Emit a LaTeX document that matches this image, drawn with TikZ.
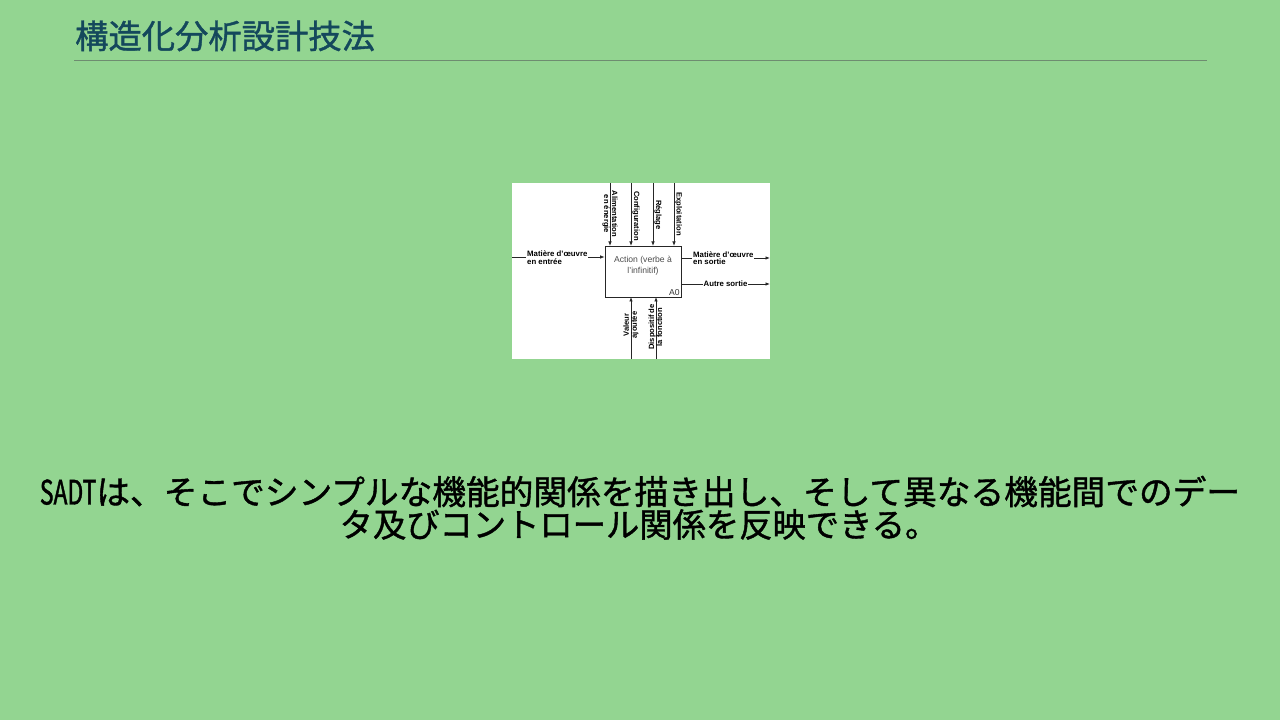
\documentclass[tikz,border=0pt]{standalone}
\usepackage{fontspec}
\setmainfont{Liberation Sans}
\newfontfamily\cjk[FakeBold=1.2]{Noto Sans CJK JP}
\newfontfamily\cjkn[FakeBold=1.2,FakeStretch=0.68]{Noto Sans CJK JP}
\usetikzlibrary{arrows.meta}
\definecolor{bggreen}{RGB}{147,213,145}
\definecolor{titleblue}{RGB}{20,72,92}
\definecolor{rulecol}{RGB}{110,140,112}
\begin{document}
\begin{tikzpicture}[x=1pt,y=1pt,
  conn/.style={line width=0.75pt, draw=black!85, -{Latex[length=4.5pt,width=3.5pt]}},
  lbl/.style={font=\fontsize{7.6}{8}\selectfont\bfseries, align=center, inner sep=0.5pt, text=black},
  hlbl/.style={font=\fontsize{7.8}{7.5}\selectfont\bfseries, align=left, inner sep=1pt, fill=white, text=black},
  jp/.style={font=\cjk\fontsize{33.7}{33.7}\selectfont, inner sep=0pt, text=black}]
\useasboundingbox (0,0) rectangle (1280,720);
\fill[bggreen] (0,0) rectangle (1280,720);
% title
\node[font=\cjk\fontsize{33.3}{33}\selectfont, text=titleblue, anchor=base west, inner sep=0pt] (title) at (75,671.5) {構造化分析設計技法};
\coordinate (rl) at (74,660);
\coordinate (rr) at (1207,660);
\draw[rulecol, line width=0.8pt] (rl) -- (rr);
% diagram panel
\fill[white] (512,361) rectangle (770,537);
\node[draw=black!85, line width=0.75pt, minimum width=76pt, minimum height=51pt, inner sep=0pt] (act) at (643,448.5) {};
\node[font=\fontsize{8.6}{10.5}\selectfont, text=black!70, align=center] (acttxt) at (643,454.5) {Action (verbe à\\l'infinitif)};
\node[font=\fontsize{8.6}{9}\selectfont, text=black!80, anchor=south east, inner sep=1.5pt] (a0) at (act.south east) {A0};
% top arrows
\coordinate (t1) at (610,537); \coordinate (b1) at (610,474);
\coordinate (t2) at (631,537); \coordinate (b2) at (631,474);
\coordinate (t3) at (653,537); \coordinate (b3) at (653,474);
\coordinate (t4) at (674,537); \coordinate (b4) at (674,474);
\draw[conn] (t1) -- (b1);
\draw[conn] (t2) -- (b2);
\draw[conn] (t3) -- (b3);
\draw[conn] (t4) -- (b4);
\node[lbl, rotate=-90] (l1) at (610,506) {Alimentation\\en énergie};
\node[lbl, rotate=-90] (l2) at (636,504) {Configuration};
\node[lbl, rotate=-90] (l3) at (658,505) {Réglage};
\node[lbl, rotate=-90] (l4) at (678.5,506) {Exploitation};
% bottom arrows
\coordinate (s1) at (631,361); \coordinate (e1) at (631,423);
\coordinate (s2) at (656,361); \coordinate (e2) at (656,423);
\draw[conn] (s1) -- (e1);
\draw[conn] (s2) -- (e2);
\node[lbl, rotate=90] (l5) at (631,395) {Valeur\\ajoutée};
\node[lbl, rotate=90] (l6) at (655.5,393) {Dispositif de\\la fonction};
% left input
\coordinate (inL) at (512,463);
\draw[conn] (inL) -- (act.west |- inL);
\node[hlbl, anchor=west] (l7) at (526,462.5) {Matière d'œuvre\\en entrée};
% outputs
\coordinate (o1) at (770,462);
\coordinate (o2) at (770,436);
\draw[conn] (act.east |- o1) -- (o1);
\draw[conn] (act.east |- o2) -- (o2);
\node[hlbl, anchor=west] (l8) at (692,462) {Matière d'œuvre\\en sortie};
\node[hlbl] (l9) at (725.5,436) {Autre sortie};
% body text
\node[jp, anchor=base] (body1) at (640,215.5) {{\cjkn SADT}は、そこでシンプルな機能的関係を描き出し、そして異なる機能間でのデー};
\node[jp, anchor=base, font=\cjk\fontsize{33.3}{33}\selectfont] (body2) at (639,183) {タ及びコントロール関係を反映できる。};
\end{tikzpicture}
\end{document}
